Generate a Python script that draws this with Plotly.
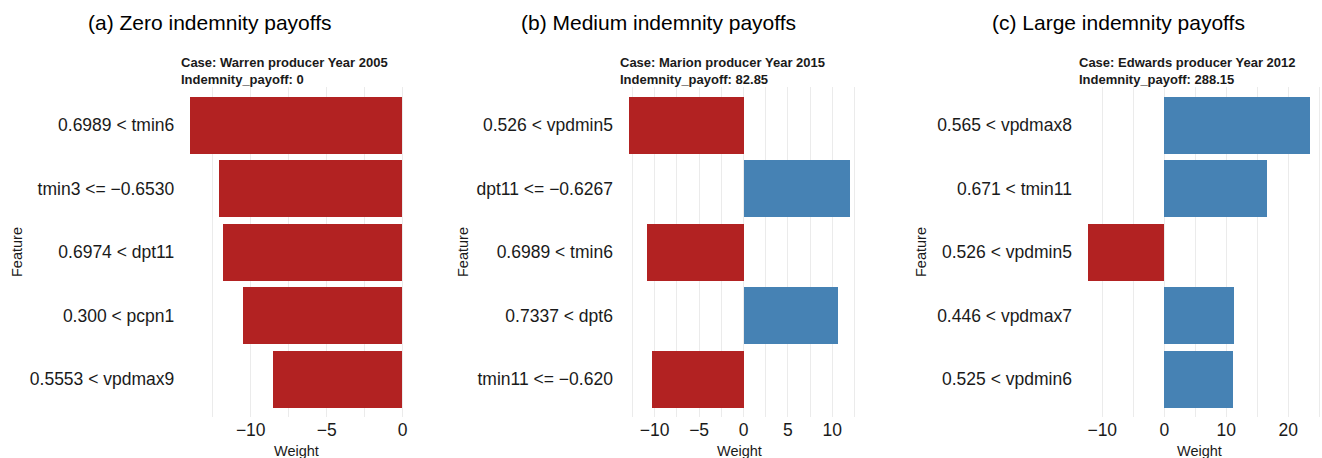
import plotly.graph_objects as go

# Feature explanations (top to bottom) and their local weights for three cases
features_a = ["0.6989 < tmin6", "tmin3 <= −0.6530", "0.6974 < dpt11", "0.300 < pcpn1", "0.5553 < vpdmax9"]
weights_a = [-14.0, -12.1, -11.8, -10.5, -8.5]

features_b = ["0.526 < vpdmin5", "dpt11 <= −0.6267", "0.6989 < tmin6", "0.7337 < dpt6", "tmin11 <= −0.620"]
weights_b = [-12.9, 12.0, -10.9, 10.6, -10.3]

features_c = ["0.565 < vpdmax8", "0.671 < tmin11", "0.526 < vpdmin5", "0.446 < vpdmax7", "0.525 < vpdmin6"]
weights_c = [23.5, 16.6, -12.3, 11.2, 11.1]

panel_titles = ["(a) Zero indemnity payoffs", "(b) Medium indemnity payoffs", "(c) Large indemnity payoffs"]
case_labels = ["Case: Warren producer Year 2005", "Case: Marion producer Year 2015", "Case: Edwards producer Year 2012"]
payoff_labels = ["Indemnity_payoff: 0", "Indemnity_payoff: 82.85", "Indemnity_payoff: 288.15"]
major_steps = [5, 5, 10]

W, H = 1322, 458
FONT = "Liberation Sans, Arial, sans-serif"
RED, BLUE = "#B22222", "#4682B4"
GRID = "#EBEBEB"
TXT = "#1a1a1a"

# panel placement in pixels: (left, right), shared top/bottom
panel_px = [(179.3, 413.3), (617.9, 861.1), (1076.9, 1321.1)]
top_px, bottom_px = 86.9, 417.1
title_cx = [210, 658, 1118]
feature_x = [17, 463, 921]


def fx(p):
    return p / W


def fy(p):
    return 1 - p / H


panels = [(features_a, weights_a), (features_b, weights_b), (features_c, weights_c)]

fig = go.Figure()
annotations = []
layout = {}

for i, (feats, wts) in enumerate(panels):
    n = "" if i == 0 else str(i + 1)
    xa, ya = "x" + n, "y" + n
    colors = [BLUE if w > 0 else RED for w in wts]
    fig.add_trace(go.Bar(
        x=wts, y=feats, orientation="h", marker=dict(color=colors, line=dict(width=0)),
        width=0.9, xaxis=xa, yaxis=ya, showlegend=False,
    ))

    lo, hi = min(0, min(wts)), max(0, max(wts))
    pad = 0.05 * (hi - lo)
    left, right = panel_px[i]
    step = major_steps[i]

    layout["xaxis" + n] = dict(
        domain=[fx(left), fx(right)], anchor=ya, range=[lo - pad, hi + pad],
        dtick=step, tick0=0, showgrid=True, gridcolor=GRID, gridwidth=1,
        minor=dict(dtick=step / 2, tick0=0, showgrid=True, gridcolor=GRID, gridwidth=1),
        zeroline=False, showline=False, ticks="",
        tickfont=dict(family=FONT, size=17.5, color=TXT),
    )
    layout["yaxis" + n] = dict(
        domain=[fy(bottom_px), fy(top_px)], anchor=xa, type="category",
        categoryorder="array", categoryarray=feats, range=[4.6, -0.6],
        showgrid=False, zeroline=False, showline=False, ticks="",
        ticklabelstandoff=4,
        tickfont=dict(family=FONT, size=17.5, color=TXT),
    )

    cx = (left + right) / 2
    annotations += [
        dict(text=panel_titles[i], x=fx(title_cx[i]), y=fy(22), xref="paper", yref="paper",
             xanchor="center", yanchor="middle", showarrow=False,
             font=dict(family=FONT, size=21, color="#000")),
        dict(text="<b>" + case_labels[i] + "</b>", x=fx(left), y=fy(63), xref="paper", yref="paper",
             xanchor="left", yanchor="middle", showarrow=False,
             font=dict(family=FONT, size=13, color=TXT)),
        dict(text="<b>" + payoff_labels[i] + "</b>", x=fx(left), y=fy(79.5), xref="paper", yref="paper",
             xanchor="left", yanchor="middle", showarrow=False,
             font=dict(family=FONT, size=13, color=TXT)),
        dict(text="Weight", x=fx(cx), y=fy(451), xref="paper", yref="paper",
             xanchor="center", yanchor="middle", showarrow=False,
             font=dict(family=FONT, size=14.5, color=TXT)),
        dict(text="Feature", x=fx(feature_x[i]), y=fy(252), xref="paper", yref="paper",
             xanchor="center", yanchor="middle", textangle=-90, showarrow=False,
             font=dict(family=FONT, size=14.5, color=TXT)),
    ]

fig.update_layout(
    width=W, height=H, margin=dict(l=0, r=0, t=0, b=0),
    paper_bgcolor="white", plot_bgcolor="white",
    annotations=annotations, bargap=0, **layout,
)

fig.write_html("out.html")
